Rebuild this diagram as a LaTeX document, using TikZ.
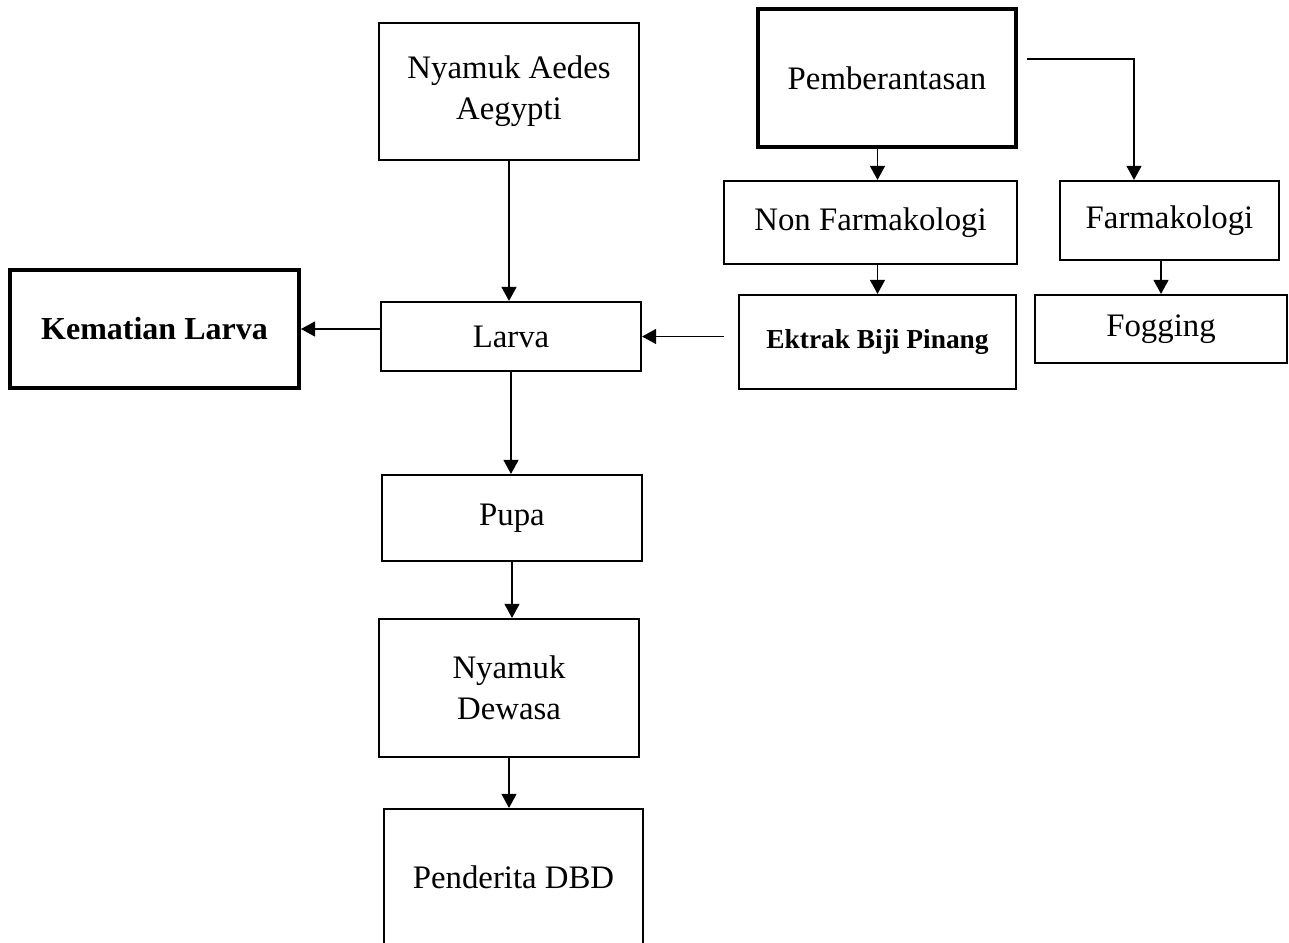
\documentclass[tikz,border=0pt]{standalone}
\usepackage{fontspec}
\setmainfont{Liberation Serif}
\usetikzlibrary{arrows.meta, positioning}

\begin{document}
\begin{tikzpicture}[x=0.5pt, y=-0.5pt,
    every node/.style={draw, line width=1.1pt, inner sep=0pt, align=center,
      font=\fontsize{16.4}{20.5}\selectfont},
    box/.style 2 args={minimum width=#1*0.5pt, minimum height=#2*0.5pt},
    heavy/.style={line width=2pt},
    bold/.style={font=\fontsize{16}{20}\selectfont\bfseries},
    arr/.style={line width=0.6pt, -{Triangle[width=7.5pt, length=7pt]}}]
  \clip (0,0) rectangle (1289,942);
  % life cycle column
  \node [box={260}{137}] (aedes) at (509,91.5) {Nyamuk Aedes\\Aegypti};
  \node [box={260}{69}] (larva) at (511,336.5) {Larva};
  \node [box={260}{86}] (pupa) at (512,518) {Pupa};
  \node [box={260}{138}] (dewasa) at (509,688) {Nyamuk\\Dewasa};
  \node [box={259}{136}] (dbd) at (513.5,877) {Penderita DBD};
  \node [box={289}{118}, heavy, bold] (mati) at (154.5,329) {Kematian Larva};
  % control branch
  \node [box={258}{138}, heavy] (berantas) at (887,78) {Pemberantasan};
  \node [box={293}{83}] (nonfarma) at (870.5,222.5) {Non Farmakologi};
  \node [box={219}{79}] (farma) at (1169.5,220.5) {Farmakologi};
  \node [box={277}{94}, font=\fontsize{13.7}{16}\selectfont\bfseries] (pinang) at (877.5,342) {Ektrak Biji Pinang};
  \node [box={252}{68}] (fogging) at (1161,329) {Fogging};
  \coordinate [left=7pt of pinang.west] (pgl);
  \coordinate (bk1) at (1027,59);
  \coordinate (bk2) at (1134,59);

  \draw [arr] (aedes.south) -- (aedes.south |- larva.north);
  \draw [arr] (larva.south) -- (larva.south |- pupa.north);
  \draw [arr] (pupa.south) -- (pupa.south |- dewasa.north);
  \draw [arr] (dewasa.south) -- (dewasa.south |- dbd.north);
  \draw [arr] (larva.west |- mati.east) -- (mati.east);
  \draw [arr] (pgl |- larva.east) -- (larva.east);
  \draw [arr] (berantas.south -| pinang.north) -- (nonfarma.north -| pinang.north);
  \draw [arr] (nonfarma.south -| pinang.north) -- (pinang.north);
  \draw [arr] (bk1) -- (bk2) -- (bk2 |- farma.north);
  \draw [arr] (farma.south -| fogging.north) -- (fogging.north);
\end{tikzpicture}
\end{document}
